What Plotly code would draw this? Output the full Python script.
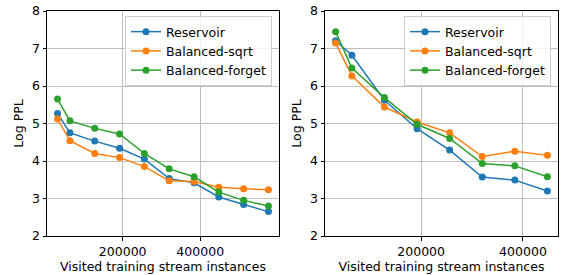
import plotly.graph_objects as go

series_names = ["Reservoir", "Balanced-sqrt", "Balanced-forget"]
colors = ["#1f77b4", "#ff7f0e", "#2ca02c"]

x_left = [32000, 64000, 128000, 192000, 256000, 320000, 384000, 448000, 512000, 576000]
left_reservoir = [5.27, 4.75, 4.53, 4.34, 4.05, 3.53, 3.42, 3.04, 2.84, 2.65]
left_sqrt = [5.12, 4.54, 4.20, 4.09, 3.85, 3.47, 3.45, 3.30, 3.26, 3.23]
left_forget = [5.65, 5.07, 4.87, 4.72, 4.20, 3.79, 3.58, 3.17, 2.95, 2.80]

x_right = [32000, 64000, 128000, 192000, 256000, 320000, 384000, 448000]
right_reservoir = [7.21, 6.82, 5.62, 4.86, 4.29, 3.57, 3.49, 3.20]
right_sqrt = [7.15, 6.27, 5.44, 5.04, 4.75, 4.12, 4.26, 4.15]
right_forget = [7.45, 6.48, 5.69, 4.98, 4.60, 3.93, 3.87, 3.58]

x_tickvals = [200000, 400000]
x_ticktext = ["200000", "400000"]
y_tickvals = [2, 3, 4, 5, 6, 7, 8]
x_title = "Visited training stream instances"
y_title = "Log PPL"

FONT = "DejaVu Sans"
W, H = 564, 275

def px(x):
    return x / W

def py(y):
    return 1 - y / H

fig = go.Figure()

left_data = [left_reservoir, left_sqrt, left_forget]
right_data = [right_reservoir, right_sqrt, right_forget]

for name, c, ys in zip(series_names, colors, left_data):
    fig.add_trace(go.Scatter(x=x_left, y=ys, name=name, mode="lines+markers",
                             line=dict(color=c, width=1.5), marker=dict(color=c, size=7),
                             xaxis="x", yaxis="y", legend="legend"))
for name, c, ys in zip(series_names, colors, right_data):
    fig.add_trace(go.Scatter(x=x_right, y=ys, name=name, mode="lines+markers",
                             line=dict(color=c, width=1.5), marker=dict(color=c, size=7),
                             xaxis="x2", yaxis="y2", legend="legend2"))

def xax(domain, rng, anchor):
    return dict(domain=domain, range=rng, anchor=anchor, tickvals=x_tickvals, ticktext=x_ticktext,
                showgrid=True, gridcolor="#bdbdbd", gridwidth=1, showline=True, linecolor="black",
                linewidth=1, mirror=True, ticks="outside", ticklen=3.5, tickcolor="black",
                title=dict(text=x_title, standoff=4, font=dict(size=12.5, color="black")),
                tickfont=dict(size=12.5, color="black"), zeroline=False, automargin=False,
                ticklabeloverflow="allow")

def yax(domain, anchor):
    return dict(domain=domain, range=[2, 8], anchor=anchor, tickvals=y_tickvals,
                showgrid=True, gridcolor="#bdbdbd", gridwidth=1, showline=True, linecolor="black",
                linewidth=1, mirror=True, ticks="outside", ticklen=3.5, tickcolor="black",
                title=dict(text=y_title, standoff=5, font=dict(size=12.5, color="black")),
                tickfont=dict(size=12.5, color="black"), zeroline=False, automargin=False,
                ticklabeloverflow="allow")

ydom = [py(236), py(11)]
legend_common = dict(bgcolor="rgba(255,255,255,0.8)", bordercolor="#cccccc", borderwidth=1,
                     font=dict(size=12.5, color="black", family=FONT), xanchor="right", yanchor="top",
                     tracegroupgap=0, itemwidth=30)

fig.update_layout(
    width=W, height=H,
    margin=dict(l=0, r=0, t=0, b=0, autoexpand=False),
    paper_bgcolor="white", plot_bgcolor="white",
    font=dict(family=FONT, size=12.5, color="black"),
    xaxis=xax([px(47), px(279)], [4800, 603200], "y"),
    yaxis=yax(ydom, "x"),
    xaxis2=xax([px(325), px(558)], [11200, 468800], "y2"),
    yaxis2=yax(ydom, "x2"),
    legend=dict(x=px(272), y=py(16), **legend_common),
    legend2=dict(x=px(551), y=py(16), **legend_common),
)

fig.write_html("out.html", config={"displayModeBar": False},
               post_script="document.body.style.margin='0';document.body.style.overflow='hidden';")
